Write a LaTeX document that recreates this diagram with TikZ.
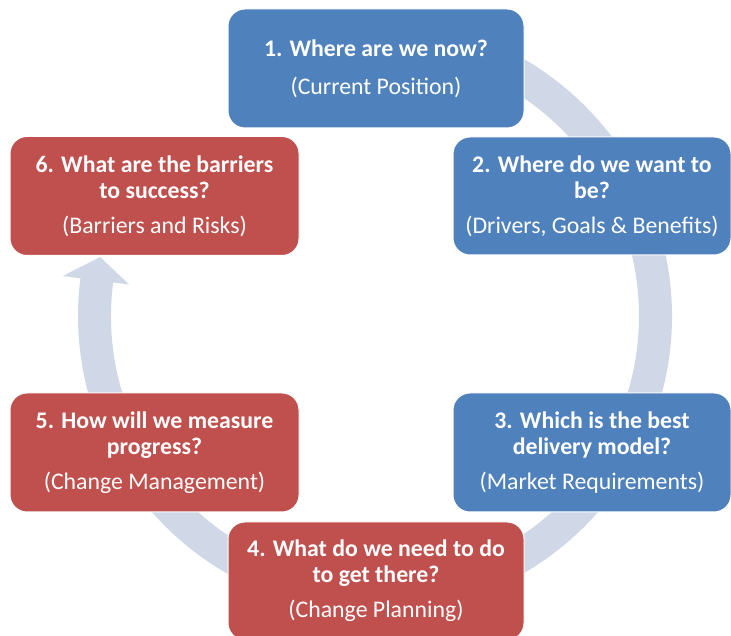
\documentclass[tikz,border=0pt]{standalone}
\usepackage{fontspec}
\setmainfont{Carlito}
\definecolor{bandc}{HTML}{D0D8E8}
\definecolor{boxblue}{HTML}{4F81BD}
\definecolor{boxred}{HTML}{C0504D}
\begin{document}
\begin{tikzpicture}[x=1pt,y=1pt,
  stage/.style={draw=white, line width=1pt, rounded corners=17pt, text=white,
    align=center, inner sep=0pt, font=\fontsize{23.8}{26}\selectfont},
  bluebox/.style={stage, fill=boxblue},
  redbox/.style={stage, fill=boxred}]
\useasboundingbox (0,0) rectangle (731,636);
% circular arrow
\begin{scope}[shift={(375,320)}]
\fill[bandc] (95:297) arc[start angle=95, end angle=-187.3, radius=297]
  -- (-187.3:315) -- (-192.1:281) -- (-187.3:248) -- (-187.3:264)
  arc[start angle=-187.3, end angle=95, radius=264] -- cycle;
\end{scope}
% stages
\node[bluebox, minimum width=296pt, minimum height=119pt] (b1) at (376,567.5)
  {\textbf{1. Where are we now?}\\[12pt](Current Position)};
\node[bluebox, minimum width=278pt, minimum height=118pt] (b2) at (592,440)
  {\textbf{2. Where do we want to}\\\textbf{be?}\\[9pt](Drivers, Goals \& Benefits)};
\node[bluebox, minimum width=278pt, minimum height=119pt] (b3) at (592,183.5)
  {\textbf{3. Which is the best}\\\textbf{delivery model?}\\[9pt](Market Requirements)};
\node[redbox, minimum width=296pt, minimum height=118pt] (b4) at (376,55)
  {\textbf{4. What do we need to do}\\\textbf{to get there?}\\[9pt](Change Planning)};
\node[redbox, minimum width=289pt, minimum height=119pt] (b5) at (154.5,183.5)
  {\textbf{5. How will we measure}\\\textbf{progress?}\\[9pt](Change Management)};
\node[redbox, minimum width=289pt, minimum height=119pt] (b6) at (154.5,440)
  {\textbf{6. What are the barriers}\\\textbf{to success?}\\[9pt](Barriers and Risks)};
\end{tikzpicture}
\end{document}
